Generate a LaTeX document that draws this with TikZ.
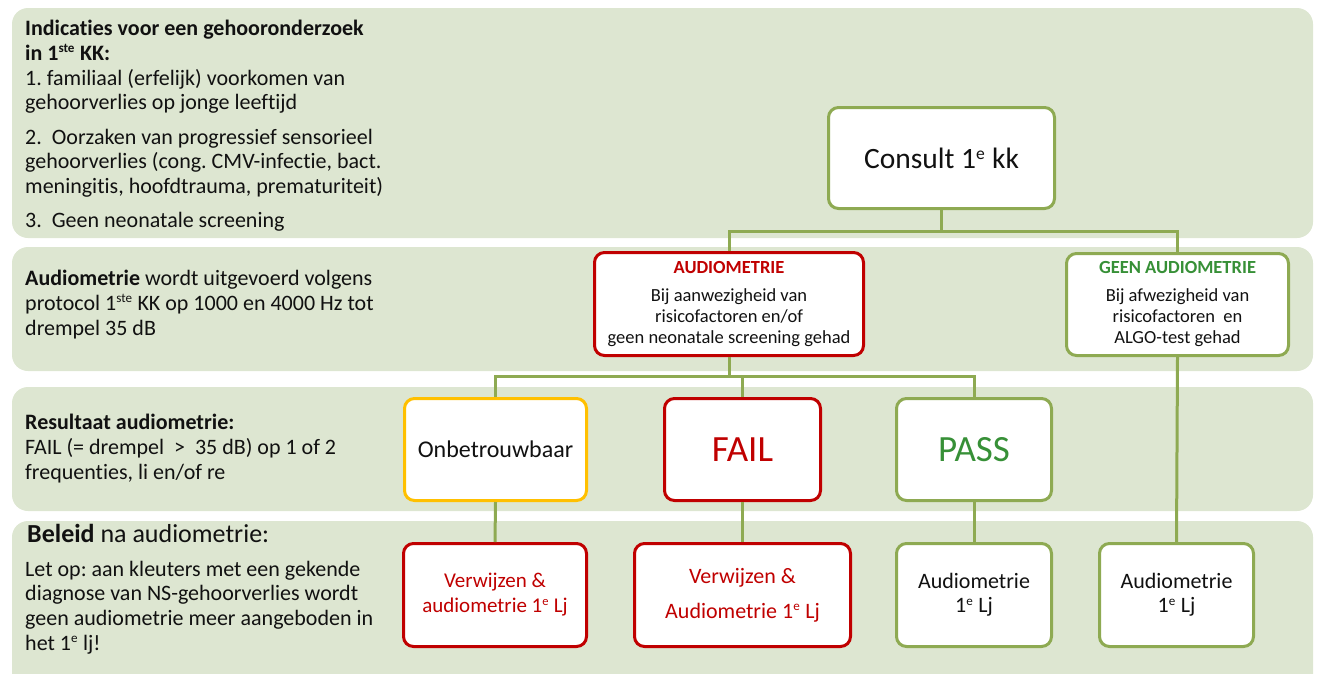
\documentclass[tikz,border=0pt]{standalone}
\usepackage{fontspec}
\setmainfont{Carlito}[Ligatures=NoCommon]
\definecolor{bandc}{HTML}{DDE6D1}
\definecolor{gline}{HTML}{8EAA52}
\definecolor{redc}{HTML}{C00000}
\definecolor{yelc}{HTML}{FFC000}
\definecolor{gtext}{HTML}{379037}
\definecolor{txt}{HTML}{111111}
\newcommand{\sups}[1]{\textsuperscript{\scalebox{0.85}{#1}}}
\frenchspacing
\begin{document}
\begin{tikzpicture}[x=1pt,y=-1pt,
  band/.style={fill=bandc, rounded corners=16pt},
  box/.style={draw, fill=white, line width=3pt, rounded corners=10pt, inner sep=0pt, align=center, text=txt},
  gbox/.style={box, draw=gline},
  rbox/.style={box, draw=redc},
  ybox/.style={box, draw=yelc},
  conn/.style={draw=gline, line width=3pt},
  lefttxt/.style={anchor=base west, align=left, inner sep=0pt, text=txt, font=\fontsize{22}{24.6}\selectfont}
]
\useasboundingbox (0,0) rectangle (1317,673);
% bands
\fill[band] (12,8) rectangle (1313,238);
\fill[band] (12,247) rectangle (1313,371);
\fill[band] (12,387) rectangle (1313,511);
\fill[band] (12,521) rectangle (1313,690);
% left texts (anchored at the baseline of the last line)
\node[lefttxt] (t1) at (25,227) {\textbf{Indicaties voor een gehooronderzoek}\\
\textbf{in 1\sups{ste} KK:}\\
1. familiaal (erfelijk) voorkomen van\\
gehoorverlies op jonge leeftijd\\[10pt]
2.~ Oorzaken van progressief sensorieel\\
gehoorverlies (cong. CMV-infectie, bact.\\
meningitis, hoofdtrauma, prematuriteit)\\[9pt]
3.~ Geen neonatale screening};
\node[lefttxt] (t2) at (25,335) {\textbf{Audiometrie} wordt uitgevoerd volgens\\
protocol 1\sups{ste} KK op 1000 en 4000 Hz tot\\
drempel 35 dB};
\node[lefttxt] (t3) at (25,479) {\textbf{Resultaat audiometrie:}\\
FAIL (= drempel~ >~ 35 dB) op 1 of 2\\
frequenties, li en/of re};
\node[lefttxt, font=\fontsize{26}{30}\selectfont] (t4) at (27,542) {\textbf{Beleid} na audiometrie:};
\node[lefttxt] (t5) at (25,650) {Let op: aan kleuters met een gekende\\
diagnose van NS-gehoorverlies wordt\\
geen audiometrie meer aangeboden in\\
het 1\sups{e} lj!};
% boxes
\node[gbox, minimum width=226pt, minimum height=101pt, font=\fontsize{29.5}{35}\selectfont] (consult) at (941.5,158) {Consult 1\sups{e} kk};
\node[rbox, minimum width=269pt, minimum height=103pt, font=\fontsize{18.5}{21}\selectfont] (audio) at (729,304) {{\bfseries\color{redc}AUDIOMETRIE}\\[7pt]Bij aanwezigheid van\\risicofactoren en/of\\geen neonatale screening gehad};
\node[gbox, minimum width=222pt, minimum height=102pt, font=\fontsize{18.5}{21}\selectfont] (geen) at (1177.5,304.5) {{\bfseries\color{gtext}GEEN AUDIOMETRIE}\\[7pt]Bij afwezigheid van\\risicofactoren~ en\\ALGO-test gehad};
\node[ybox, minimum width=182pt, minimum height=102pt, font=\fontsize{24}{29}\selectfont] (onb) at (495.5,449.5) {Onbetrouwbaar};
\node[rbox, minimum width=156pt, minimum height=102pt, font=\fontsize{37}{44}\selectfont, text=redc] (fail) at (742.5,449.5) {FAIL};
\node[gbox, minimum width=155pt, minimum height=102pt, font=\fontsize{37}{44}\selectfont, text=gtext] (pass) at (974,449.5) {PASS};
\node[rbox, minimum width=183pt, minimum height=103pt, font=\fontsize{21}{25}\selectfont, text=redc] (v1) at (495,595) {Verwijzen \&\\audiometrie 1\sups{e} Lj};
\node[rbox, minimum width=216pt, minimum height=103pt, font=\fontsize{22}{25}\selectfont, text=redc] (v2) at (742.5,595) {Verwijzen \&\\[10pt]Audiometrie 1\sups{e} Lj};
\node[gbox, minimum width=155pt, minimum height=103pt, font=\fontsize{22}{24}\selectfont] (a3) at (974,595) {Audiometrie\\1\sups{e} Lj};
\node[gbox, minimum width=154pt, minimum height=103pt, font=\fontsize{22}{24}\selectfont] (a4) at (1176.5,595) {Audiometrie\\1\sups{e} Lj};
% connectors
\coordinate (j1) at (941.5,231);
\coordinate (j2) at (742.5,376);
\draw[conn] (consult.south) -- (j1);
\draw[conn] (audio.north) -- (audio.north |- j1) -- (geen.north |- j1) -- (geen.north);
\draw[conn] (audio.south) -- (audio.south |- j2);
\draw[conn] (onb.north) -- (onb.north |- j2) -- (pass.north |- j2) -- (pass.north);
\draw[conn] (fail.north) -- (j2);
\draw[conn] (onb.south) -- (v1.north);
\draw[conn] (fail.south) -- (v2.north);
\draw[conn] (pass.south) -- (a3.north);
\draw[conn] (geen.south) -- (a4.north);
\end{tikzpicture}
\end{document}
